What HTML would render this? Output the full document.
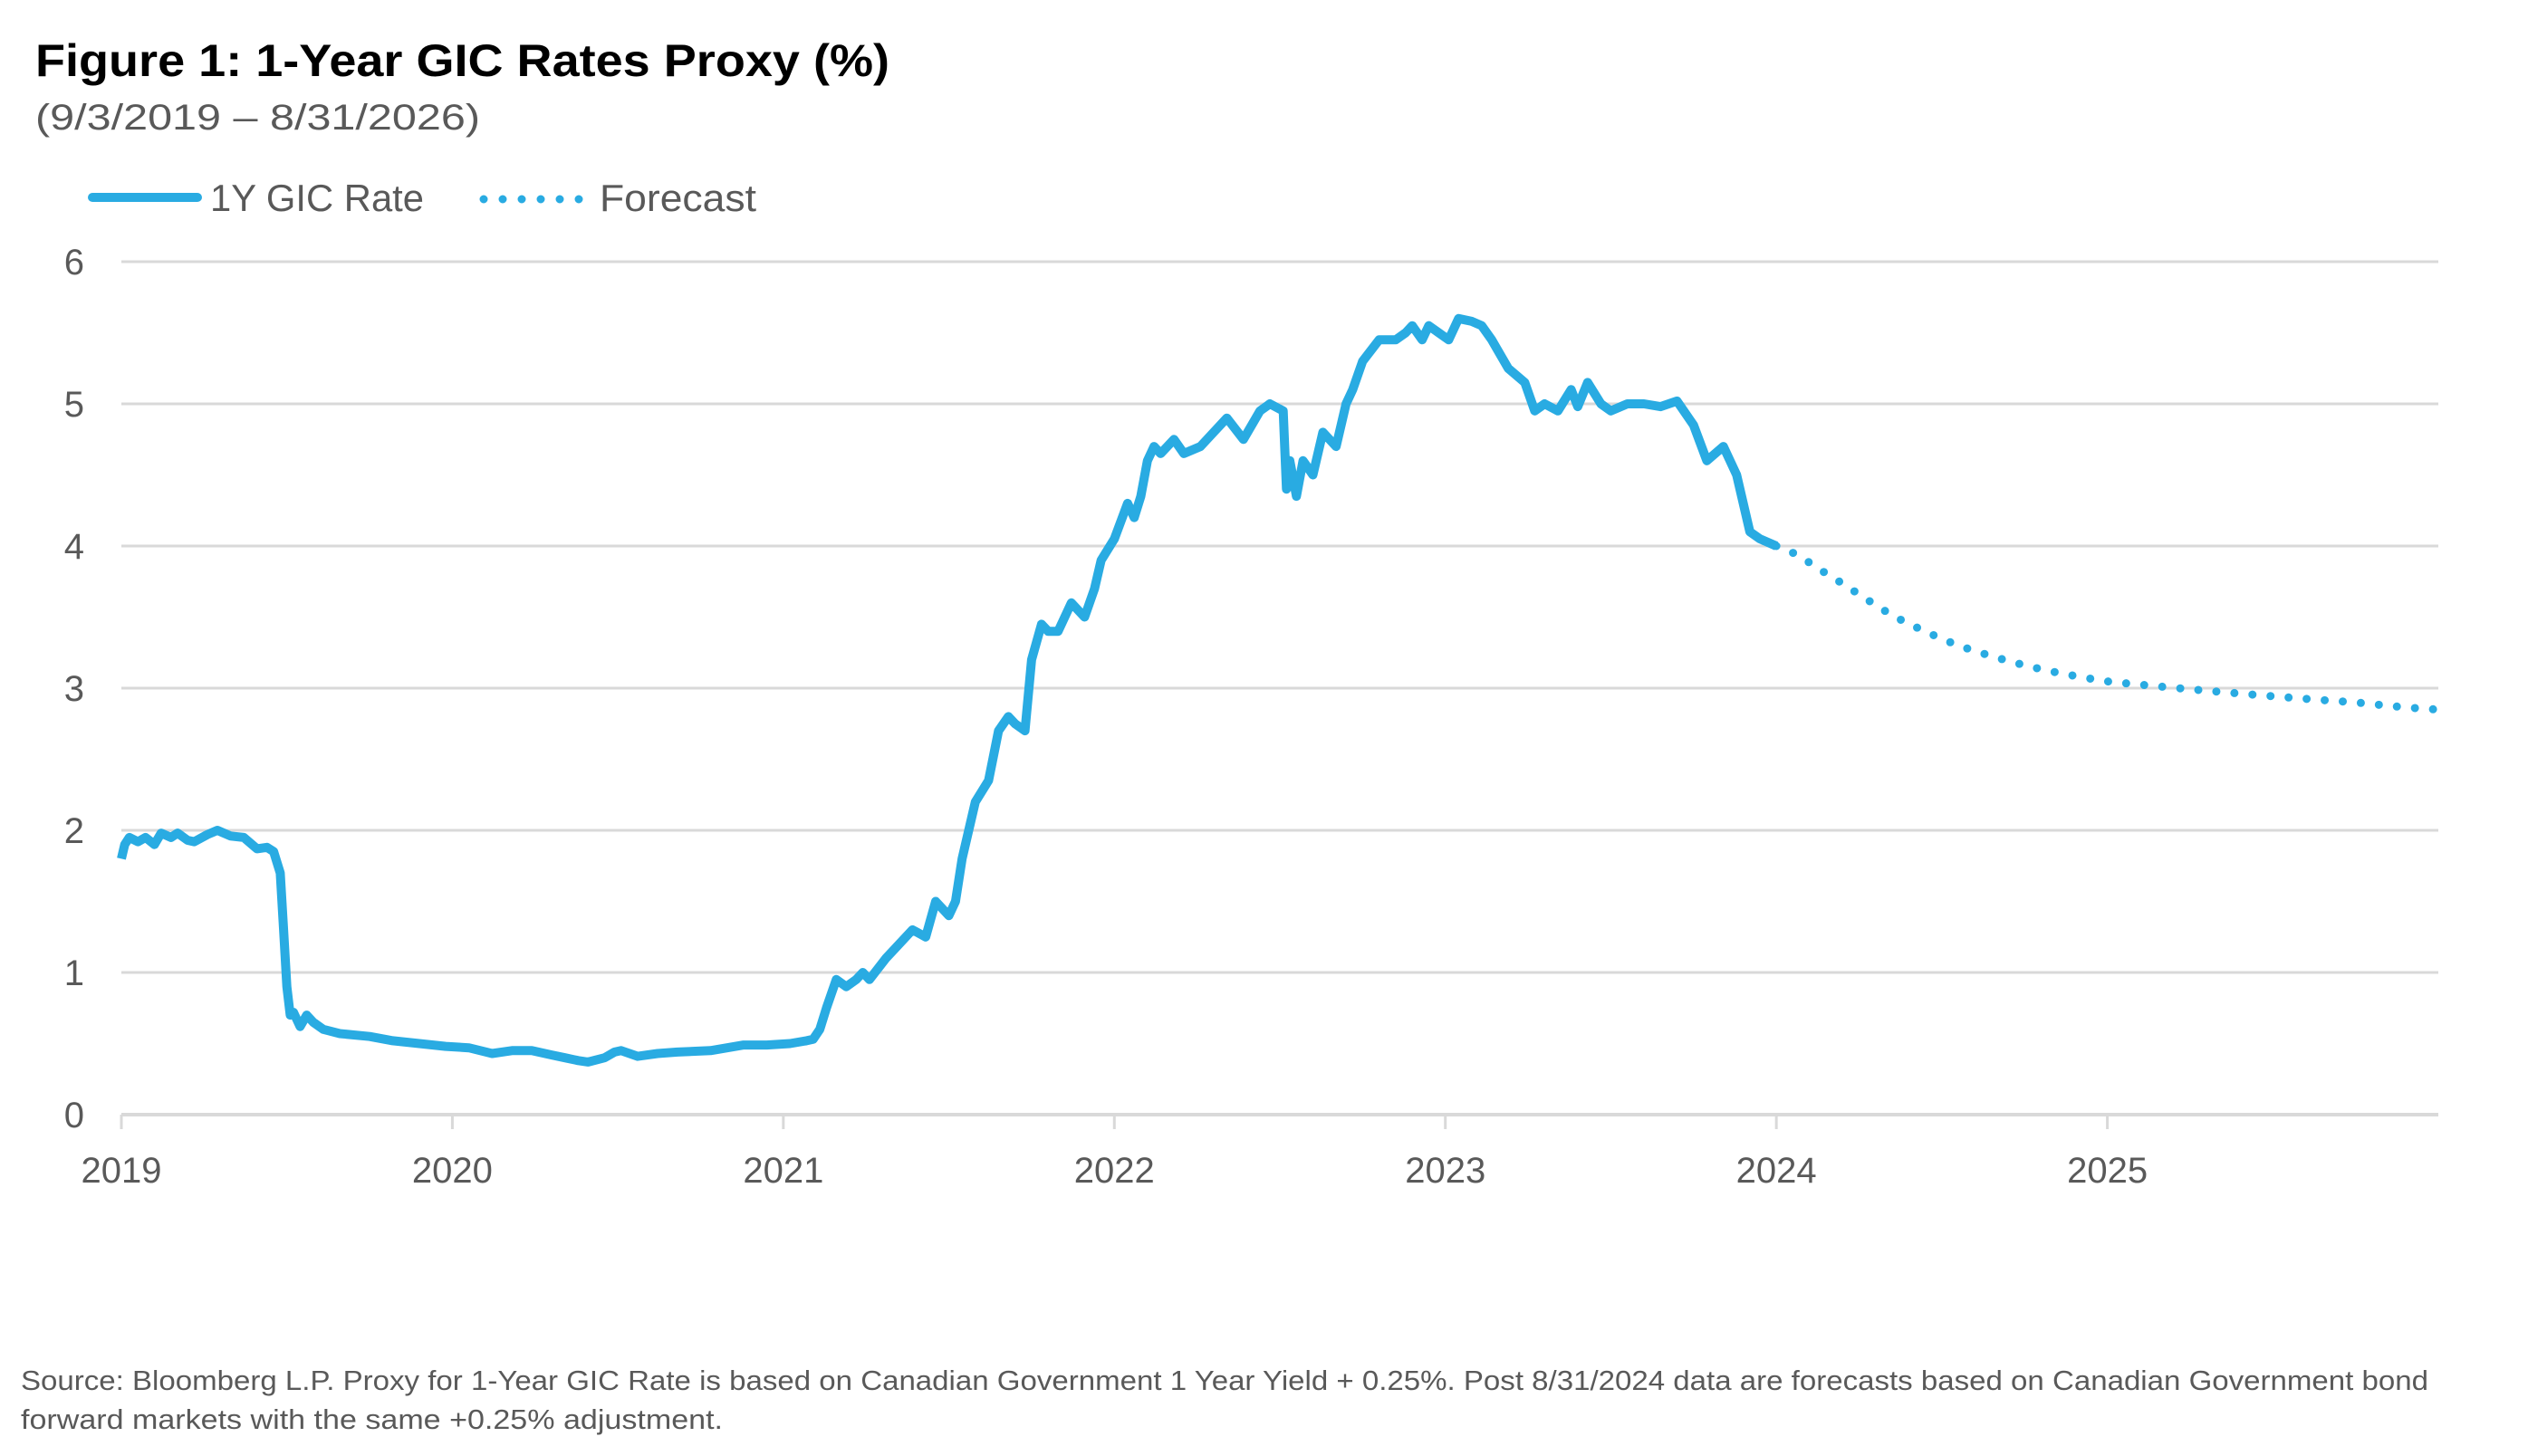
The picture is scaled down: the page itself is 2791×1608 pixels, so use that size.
<!DOCTYPE html>
<html><head><meta charset="utf-8"><style>
html,body{margin:0;padding:0;background:#fff;}
svg{display:block;font-family:"Liberation Sans",sans-serif;}
</style></head><body>
<svg id="chart" width="2791" height="1608" viewBox="0 0 2791 1608" xmlns="http://www.w3.org/2000/svg">
<text x="39" y="84" font-size="50" font-weight="bold" fill="#000" textLength="943" lengthAdjust="spacingAndGlyphs">Figure 1: 1-Year GIC Rates Proxy (%)</text>
<text x="39" y="143" font-size="40" fill="#595959" textLength="491" lengthAdjust="spacingAndGlyphs">(9/3/2019 – 8/31/2026)</text>
<g>
<line x1="102" y1="218" x2="218" y2="218" stroke="#29abe2" stroke-width="10" stroke-linecap="round"/>
<text x="232" y="233" font-size="42" fill="#595959" textLength="236" lengthAdjust="spacingAndGlyphs">1Y GIC Rate</text>
<line x1="534" y1="220" x2="640" y2="220" stroke="#29abe2" stroke-width="9" stroke-linecap="round" stroke-dasharray="0 21"/>
<text x="662" y="233" font-size="42" fill="#595959" textLength="173" lengthAdjust="spacingAndGlyphs">Forecast</text>
</g>
<g id="grid"></g><g id="axes"></g><g id="series"></g>
<text x="23" y="1535" font-size="31" fill="#595959" textLength="2658" lengthAdjust="spacingAndGlyphs">Source: Bloomberg L.P. Proxy for 1-Year GIC Rate is based on Canadian Government 1 Year Yield + 0.25%. Post 8/31/2024 data are forecasts based on Canadian Government bond</text>
<text x="23" y="1578" font-size="31" fill="#595959" textLength="775" lengthAdjust="spacingAndGlyphs">forward markets with the same +0.25% adjustment.</text>
</svg>
<script>
// t = years since start of axis (label 2019 at t=0)
const histT = [0,0.01,0.024,0.05,0.073,0.1,0.12,0.15,0.17,0.2,0.22,0.26,0.29,0.33,0.37,0.41,0.44,0.46,0.48,0.49,0.5,0.51,0.52,0.54,0.56,0.58,0.61,0.66,0.75,0.82,0.9,0.98,1.05,1.12,1.18,1.24,1.3,1.34,1.38,1.41,1.46,1.49,1.51,1.56,1.62,1.68,1.78,1.88,1.95,2.02,2.07,2.09,2.11,2.13,2.16,2.19,2.22,2.24,2.26,2.31,2.35,2.39,2.43,2.46,2.5,2.52,2.54,2.58,2.62,2.65,2.68,2.7,2.73,2.75,2.78,2.8,2.83,2.87,2.91,2.94,2.96,3.0,3.04,3.06,3.08,3.1,3.12,3.14,3.18,3.21,3.26,3.3,3.34,3.39,3.44,3.47,3.51,3.52,3.53,3.55,3.57,3.6,3.63,3.67,3.7,3.72,3.75,3.8,3.85,3.88,3.9,3.93,3.95,3.98,4.01,4.04,4.08,4.11,4.14,4.19,4.24,4.27,4.3,4.34,4.38,4.4,4.43,4.47,4.5,4.55,4.6,4.65,4.7,4.75,4.79,4.84,4.88,4.92,4.95,5.0];
const histV = [1.8,1.9,1.95,1.92,1.95,1.9,1.98,1.95,1.98,1.93,1.92,1.97,2.0,1.96,1.95,1.87,1.88,1.85,1.7,1.3,0.9,0.7,0.72,0.62,0.7,0.65,0.6,0.57,0.55,0.52,0.5,0.48,0.47,0.43,0.45,0.45,0.42,0.4,0.38,0.37,0.4,0.44,0.45,0.41,0.43,0.44,0.45,0.49,0.49,0.5,0.52,0.53,0.6,0.75,0.95,0.9,0.95,1.0,0.95,1.1,1.2,1.3,1.25,1.5,1.4,1.5,1.8,2.2,2.35,2.7,2.8,2.75,2.7,3.2,3.45,3.4,3.4,3.6,3.5,3.7,3.9,4.05,4.3,4.2,4.35,4.6,4.7,4.65,4.75,4.65,4.7,4.8,4.9,4.75,4.95,5.0,4.95,4.4,4.6,4.35,4.6,4.5,4.8,4.7,5.0,5.1,5.3,5.45,5.45,5.5,5.55,5.45,5.55,5.5,5.45,5.6,5.58,5.55,5.45,5.25,5.15,4.95,5.0,4.95,5.1,4.98,5.15,5.0,4.95,5.0,5.0,4.98,5.02,4.85,4.6,4.7,4.5,4.1,4.05,4.0];
const fcT = [5.0,5.19,5.36,5.55,5.77,5.99,6.36,6.75,7.0];
const fcV = [4.0,3.75,3.5,3.3,3.15,3.05,2.97,2.9,2.85];
const yTicks = [0,1,2,3,4,5,6];
const xTickLabels = ["2019","2020","2021","2022","2023","2024","2025"];

const X0=134, X1=2692, Y0=1231, Y6=289;
const xs = t => X0 + t*(X1-X0)/7;
const ys = v => Y0 - v*(Y0-Y6)/6;
const NS="http://www.w3.org/2000/svg";
function mk(tag,parent){const e=document.createElementNS(NS,tag);parent.appendChild(e);return e;}
const grid=document.getElementById('grid'), axes=document.getElementById('axes'), series=document.getElementById('series');

yTicks.forEach(v=>{
  if(v>0){
    const l=mk('line',grid);
    
    
    l.setAttribute('x1',X0);l.setAttribute('x2',X1);l.setAttribute('y1',ys(v));l.setAttribute('y2',ys(v));
    l.setAttribute('stroke','#d9d9d9');l.setAttribute('stroke-width','3');
  }
  const t=mk('text',axes);
  
  
  t.setAttribute('x',93);t.setAttribute('y',ys(v)+14);t.setAttribute('text-anchor','end');
  t.setAttribute('font-size','40');t.setAttribute('fill','#595959');
  t.textContent=v;
});
const ax=mk('line',axes);


ax.setAttribute('x1',X0);ax.setAttribute('x2',X1);ax.setAttribute('y1',Y0);ax.setAttribute('y2',Y0);
ax.setAttribute('stroke','#d9d9d9');ax.setAttribute('stroke-width','4');
xTickLabels.forEach((lab,i)=>{
  const x=xs(i);
  const tk=mk('line',axes);
  
  
  tk.setAttribute('x1',x);tk.setAttribute('x2',x);tk.setAttribute('y1',Y0);tk.setAttribute('y2',Y0+16);
  tk.setAttribute('stroke','#d9d9d9');tk.setAttribute('stroke-width','3');
  const t=mk('text',axes);
  
  
  t.setAttribute('x',x);t.setAttribute('y',1306);t.setAttribute('text-anchor','middle');
  t.setAttribute('font-size','40');t.setAttribute('fill','#595959');
  t.textContent=lab;
});
const hp=mk('path',series);


hp.setAttribute('d',histT.map((t,i)=>(i?'L':'M')+xs(t).toFixed(1)+','+ys(histV[i]).toFixed(1)).join(''));
hp.setAttribute('fill','none');hp.setAttribute('stroke','#29abe2');hp.setAttribute('stroke-width','10');hp.setAttribute('stroke-linejoin','round');
const fp=mk('path',series);


let d='M'+xs(fcT[0])+','+ys(fcV[0]);
for(let i=1;i<fcT.length;i++){const a=fcT[i-1],b=fcT[i],va=fcV[i-1],vb=fcV[i];
 const p0=i>1?fcV[i-2]:va, p3=i<fcT.length-1?fcV[i+1]:vb;
 const c1=va+(vb-p0)/6, c2=vb-(p3-va)/6;
 d+='C'+xs(a+(b-a)/3)+','+ys(c1)+' '+xs(a+2*(b-a)/3)+','+ys(c2)+' '+xs(b)+','+ys(vb);}
fp.setAttribute('d',d);
fp.setAttribute('fill','none');fp.setAttribute('stroke','#29abe2');fp.setAttribute('stroke-width','9');
fp.setAttribute('stroke-linecap','round');fp.setAttribute('stroke-dasharray','0 20');
</script>
</body></html>
